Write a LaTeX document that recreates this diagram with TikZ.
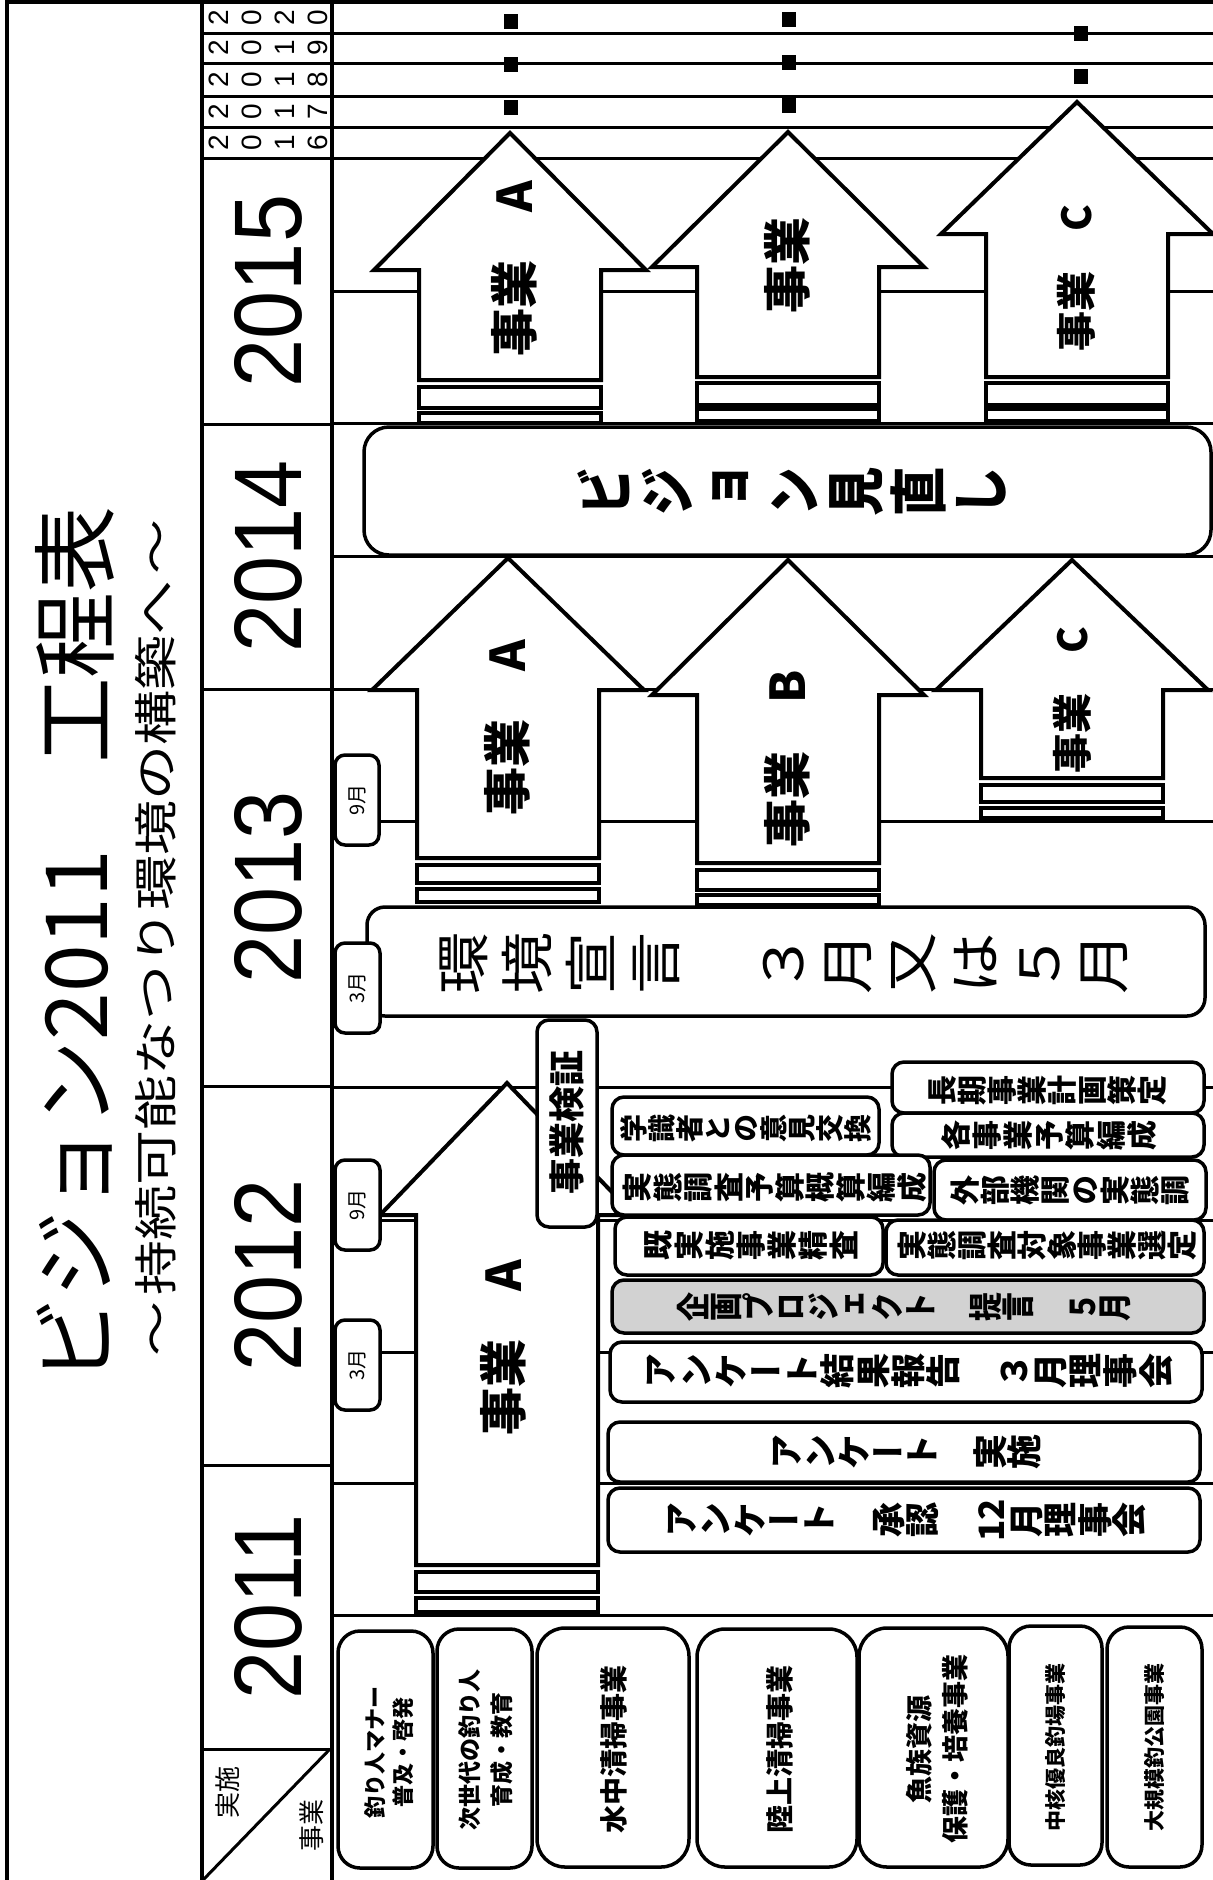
\documentclass[tikz,border=0pt]{standalone}
\usepackage{fontspec}
\setmainfont{Noto Sans CJK JP}
\newfontfamily\jpH{Noto Sans CJK JP}
\newfontfamily\jpV[RawFeature=+vert]{Noto Sans CJK JP}
\newfontfamily\jpVc[RawFeature=+vert,FakeStretch=0.85]{Noto Sans CJK JP}
\newfontfamily\jpVx[RawFeature=+vert,FakeStretch=1.15]{Noto Sans CJK JP}
\newfontfamily\jpSub[FakeStretch=1.25]{Noto Sans CJK JP}
\newfontfamily\arialc[FakeStretch=0.9]{Liberation Sans}
\newfontfamily\arial{Liberation Sans}
\newcommand\fs[2]{\fontsize{#1}{#2}\selectfont\lineskiplimit=-500pt\relax}
% cx, head half width, tip y, base y, shaft bottom y, stripe1 top/bottom, stripe2 top/bottom
\newcommand\uparr[9]{%
  \draw[arr] (#1,#3) -- ({#1+#2},#4) -- ({#1+91},#4) -- ({#1+91},#5) -- ({#1-91},#5) -- ({#1-91},#4) -- ({#1-#2},#4) -- cycle;
  \draw[arr] ({#1-91},#6) rectangle ({#1+91},#7);
  \draw[arr] ({#1-91},#8) rectangle ({#1+91},#9);}
\begin{document}
\begin{tikzpicture}[x=1pt,y=-1pt,
  grid/.style={line width=3pt},
  frame/.style={line width=3.5pt},
  arr/.style={line width=4pt, fill=white, line join=miter},
  box/.style={draw, line width=3.5pt, fill=white, rounded corners=#1, inner sep=0pt},
  box/.default=12pt,
  tx/.style={rotate=90, inner sep=0pt, align=center},
  sq/.style={fill=black, minimum width=14pt, minimum height=15pt, inner sep=0pt},
]
\path[use as bounding box] (0,0) rectangle (1213,1880);
% ---------- frame and grid
\draw[frame] (7,1880) -- (7,2) -- (1213,2);
\draw[frame] (202,2) -- (202,1880);
\draw[frame] (332,2) -- (332,1880);
\foreach \y in {33,63,96,127,158} \draw[grid] (202,\y) -- (1213,\y);
\foreach \y in {424,689,1086,1465,1749} \draw[grid] (202,\y) -- (332,\y);
\foreach \y in {291,423,556,689,821,1087,1220,1352,1483,1615} \draw[grid] (332,\y) -- (1213,\y);
\draw[grid] (330,1749) -- (203,1880);
% ---------- title
\node[tx, font=\jpH\fs{85.8}{86}] (title) at (75,945) {ビジョン2011　工程表};
\node[tx, font=\jpSub\fs{44}{44}] (subtitle) at (156,938) {～\hspace{6pt}持続可能なつり環境の構築へ\hspace{6pt}～};
% ---------- years
\foreach \yy/\yt/\nm in {17.5/2\\0\\2\\0/y20, 48/2\\0\\1\\9/y19, 79.5/2\\0\\1\\8/y18, 111.5/2\\0\\1\\7/y17, 143/2\\0\\1\\6/y16}
  \node[tx, font=\arial\fs{28}{33}] (\nm) at (268,\yy) {\yt};
\node[tx, font=\arialc\fs{96}{96}] (y15) at (268,291) {2015};
\node[tx, font=\arialc\fs{96}{96}] (y14) at (268,556) {2014};
\node[tx, font=\arialc\fs{96}{96}] (y13) at (268,887) {2013};
\node[tx, font=\arialc\fs{96}{96}] (y12) at (268,1275) {2012};
\node[tx, font=\arialc\fs{96}{96}] (y11) at (268,1607) {2011};
\node[tx, font=\jpH\fs{26}{26}] (jisshiH) at (228,1792) {実施};
\node[tx, font=\jpH\fs{26}{26}] (jigyoH) at (312,1825) {事業};
% ---------- squares
\foreach \x/\y/\nm in {511/21.5/q1, 511/64.5/q2, 511/107.5/q3, 789/19.5/q4, 789/62.5/q5, 789/105.5/q6, 1081/33.5/q7, 1081/76.5/q8}
  \node[sq] (\nm) at (\x,\y) {};
% ---------- arrows
\uparr{510}{136}{133}{270}{380}{387}{408}{413}{423}
\uparr{788}{136}{132}{267}{377}{383}{405}{409}{421}
\uparr{1077}{136}{102}{234}{377}{383}{405}{409}{421}
\uparr{508}{136}{558}{690}{858}{865}{883}{889}{902}
\uparr{788}{136}{560}{695}{863}{870}{890}{895}{905}
\uparr{1072}{136}{560}{690}{778}{785}{802}{808}{818}
\uparr{507}{127}{1083}{1215}{1565}{1572}{1592}{1598}{1612}
\node[tx, font=\bfseries\fs{48}{48}] (a15a) at (514,269) {事業　A};
\node[tx, font=\bfseries\fs{48}{48}] (a15b) at (787,265) {事業};
\node[tx, font=\bfseries\fs{40}{40}] (a15c) at (1076,278) {事業　C};
\node[tx, font=\bfseries\fs{48}{48}] (a14a) at (507,728) {事業　A};
\node[tx, font=\bfseries\fs{48}{48}] (a14b) at (787,759) {事業　B};
\node[tx, font=\bfseries\fs{40}{40}] (a14c) at (1072,700) {事業　C};
\node[tx, font=\bfseries\fs{48}{48}] (a12a) at (503,1348) {事業　A};
% ---------- large boxes
\node[box=25pt, minimum width=847, minimum height=128] (vision) at (787.5,491) {};
\node[tx, font=\jpVc\bfseries\fs{58}{62.6}] (visiont) at (792,492) {ビ\\ジ\\ョ\\ン\\見\\直\\し};
\node[box=18pt, minimum width=838, minimum height=109] (kankyo) at (786,961.5) {};
\node[tx, font=\jpVx\fs{54}{64}] (kankyot) at (784,963) {環\\境\\宣\\言\\　\\３\\月\\又\\は\\５\\月};
% ---------- middle boxes
\node[box, minimum width=312, minimum height=51] (choki) at (1048,1087.5) {};
\node[tx, font=\jpV\bfseries\fs{30}{30}] (chokit) at (1048,1090) {長\\期\\事\\業\\計\\画\\策\\定};
\node[box, minimum width=312, minimum height=44] (kakuji) at (1048,1135) {};
\node[tx, font=\jpV\bfseries\fs{30}{31}] (kakujit) at (1049,1135) {各\\事\\業\\予\\算\\編\\成};
\node[box, minimum width=267, minimum height=58] (gaku) at (745.5,1126) {};
\node[tx, font=\jpV\bfseries\fs{28}{28}] (gakut) at (746,1128) {学\\識\\者\\と\\の\\意\\見\\交\\換};
\node[box, minimum width=318, minimum height=60] (yosan) at (771,1185) {};
\node[tx, font=\jpV\bfseries\fs{30}{30.5}] (yosant) at (775,1187) {実\\態\\調\\査\\予\\算\\概\\算\\編\\成};
\node[box, minimum width=272, minimum height=60] (gaibu) at (1070,1190) {};
\node[tx, font=\jpV\bfseries\fs{30}{30}] (gaibut) at (1070,1190) {外\\部\\機\\関\\の\\実\\態\\調};
\node[box, minimum width=268, minimum height=58] (kiji) at (749,1246) {};
\node[tx, font=\jpV\bfseries\fs{30}{31}] (kijit) at (751,1245) {既\\実\\施\\事\\業\\精\\査};
\node[box, minimum width=318, minimum height=55] (taisho) at (1045,1247.5) {};
\node[tx, font=\jpV\bfseries\fs{30}{30}] (taishot) at (1047,1245) {実\\態\\調\\査\\対\\象\\事\\業\\選\\定};
\node[box, fill={rgb,255:red,210;green,210;blue,210}, minimum width=592, minimum height=53] (kikaku) at (908,1306.5) {};
\node[tx, font=\jpVc\bfseries\fs{34}{32.4}] (kikakut) at (904,1307) {企\\画\\プ\\ロ\\ジ\\ェ\\ク\\ト\\　\\提\\言\\　\\５\\月};
\node[box, minimum width=592, minimum height=60] (kekka) at (906,1372) {};
\node[tx, font=\jpV\bfseries\fs{35}{35.4}] (kekkat) at (910,1371) {ア\\ン\\ケ\\ー\\ト\\結\\果\\報\\告\\　\\３\\月\\理\\事\\会};
\node[box, minimum width=592, minimum height=60] (anjisshi) at (904,1452) {};
\node[tx, font=\jpV\bfseries\fs{35}{34}] (anjisshit) at (907,1452) {ア\\ン\\ケ\\ー\\ト\\　\\実\\施};
\node[box, minimum width=592, minimum height=64] (shonin) at (904,1520) {};
\node[tx, font=\jpV\bfseries\fs{35}{34.5}] (shonint) at (907,1520) {ア\\ン\\ケ\\ー\\ト\\　\\承\\認\\　\\12\\月\\理\\事\\会};
% ---------- tags
\node[box=10pt, minimum width=44, minimum height=90] (tag1) at (357,800) {};
\node[tx, font=\jpH\fs{20}{20}] (tag1t) at (tag1) {9月};
\node[box=10pt, minimum width=45, minimum height=90] (tag2) at (357.5,988) {};
\node[tx, font=\jpH\fs{20}{20}] (tag2t) at (tag2) {3月};
\node[box=10pt, minimum width=45, minimum height=90] (tag3) at (357.5,1205) {};
\node[tx, font=\jpH\fs{20}{20}] (tag3t) at (tag3) {9月};
\node[box=10pt, minimum width=45, minimum height=90] (tag4) at (357.5,1365) {};
\node[tx, font=\jpH\fs{20}{20}] (tag4t) at (tag4) {3月};
\node[box=12pt, minimum width=60, minimum height=207] (kensho) at (567,1123.5) {};
\node[tx, font=\bfseries\fs{36}{36}] (kenshot) at (567,1122) {事業検証};
% ---------- bottom category boxes
\node[box=22pt, minimum width=95, minimum height=237] (b1) at (385.5,1749.5) {};
\node[tx, font=\bfseries\fs{22}{28}] (b1t) at (389,1752) {釣り人マナー\\普及・啓発};
\node[box=22pt, minimum width=95, minimum height=239] (b2) at (484.5,1748.5) {};
\node[tx, font=\bfseries\fs{23}{32}] (b2t) at (486,1750) {次世代の釣り人\\育成・教育};
\node[box=28pt, minimum width=152, minimum height=239] (b3) at (613,1747.5) {};
\node[tx, font=\bfseries\fs{28}{28}] (b3t) at (614,1749) {水中清掃事業};
\node[box=28pt, minimum width=160, minimum height=238] (b4) at (777,1748) {};
\node[tx, font=\bfseries\fs{28}{28}] (b4t) at (780,1749) {陸上清掃事業};
\node[box=28pt, minimum width=149, minimum height=239] (b5) at (933.5,1747.5) {};
\node[tx, font=\bfseries\fs{27}{36}] (b5t) at (937,1749) {魚族資源\\保護・培養事業};
\node[box=22pt, minimum width=93, minimum height=239] (b6) at (1055.5,1745.5) {};
\node[tx, font=\bfseries\fs{21}{21}] (b6t) at (1056,1747) {中核優良釣場事業};
\node[box=22pt, minimum width=95, minimum height=240] (b7) at (1154.5,1747) {};
\node[tx, font=\bfseries\fs{21}{21}] (b7t) at (1155,1747) {大規模釣公園事業};
\end{tikzpicture}
\end{document}
